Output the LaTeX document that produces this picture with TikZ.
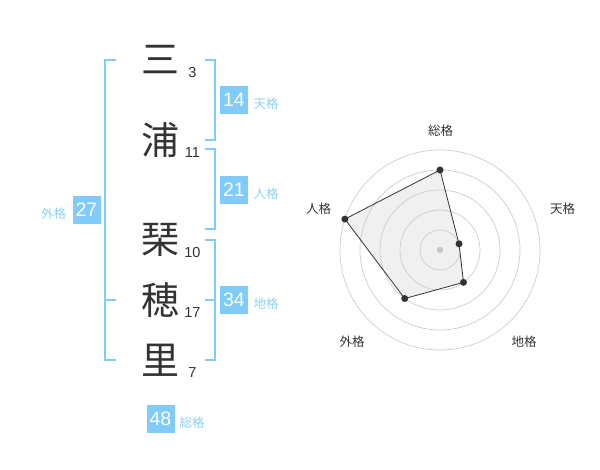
\documentclass[tikz,border=0pt]{standalone}
\usepackage{fontspec}
\setmainfont{Liberation Sans}
\newfontfamily\jpfont{Noto Sans CJK JP}
\usetikzlibrary{calc}
\definecolor{kakublue}{HTML}{80CBF7}
\definecolor{kakutext}{HTML}{8CD0F7}
\definecolor{inkgray}{HTML}{333333}

\begin{document}
\begin{tikzpicture}[x=1pt, y=-1pt,
		kanji/.style={font=\jpfont\fontsize{38}{38}\selectfont, text=inkgray, inner sep=0pt},
		strokes/.style={font=\fontsize{14.5}{14.5}\selectfont, text=inkgray, inner sep=0pt},
		kakubox/.style={fill=kakublue, text=white, font=\fontsize{19.5}{19.5}\selectfont, minimum size=28pt, inner sep=0pt},
		kakuname/.style={font=\jpfont\fontsize{12.5}{12.5}\selectfont, text=kakutext, inner sep=0pt},
		bracket/.style={draw=kakublue, line width=2pt},
		ring/.style={draw=black!20, line width=0.7pt},
		axisname/.style={font=\jpfont\fontsize{12.5}{12.5}\selectfont, text=inkgray, inner sep=0pt},
		score/.style={circle, fill=inkgray, minimum size=7pt, inner sep=0pt}
	]
		\useasboundingbox (0, 0) rectangle (600, 470);
		
		% name
		\node[kanji] (c1) at (160, 60) {三};
		\node[kanji] (c2) at (160, 140) {浦};
		\node[kanji] (c3) at (160, 240) {琹};
		\node[kanji] (c4) at (160, 300) {穂};
		\node[kanji] (c5) at (160, 360) {里};
		\node[strokes] (s1) at (192.5, 73) {3};
		\node[strokes] (s2) at (192.5, 153) {11};
		\node[strokes] (s3) at (192.5, 253) {10};
		\node[strokes] (s4) at (192.5, 313) {17};
		\node[strokes] (s5) at (192.5, 373) {7};
		
		% brackets
		\draw[bracket] (116, 60) -- (105, 60) -- (105, 360) -- (116, 360);
		\draw[bracket] (105, 300) -- (116, 300);
		\draw[bracket] (205, 60) -- (215, 60) -- (215, 140) -- (205, 140);
		\draw[bracket] (205, 149) -- (215, 149) -- (215, 229) -- (205, 229);
		\draw[bracket] (205, 240) -- (215, 240) -- (215, 360) -- (205, 360);
		\draw[bracket] (205, 300) -- (215, 300);
		
		% kaku boxes
		\node[kakubox] (ten) at (234, 100) {14};
		\node[kakuname] (tenname) at (266, 104) {天格};
		\node[kakubox] (jin) at (234, 190) {21};
		\node[kakuname] (jinname) at (266, 194) {人格};
		\node[kakubox] (chi) at (234, 300) {34};
		\node[kakuname] (chiname) at (266, 304) {地格};
		\node[kakubox] (gai) at (86.5, 210) {27};
		\node[kakuname] (gainame) at (53.5, 213.5) {外格};
		\node[kakubox] (sou) at (160.5, 419) {48};
		\node[kakuname] (souname) at (192, 423) {総格};
		
		% radar
		\coordinate (center) at (440, 250);
		\coordinate (psou) at ($(center)+(90:80pt)$);
		\coordinate (pten) at ($(center)+(18:20pt)$);
		\coordinate (pchi) at ($(center)+(-54:40pt)$);
		\coordinate (pgai) at ($(center)+(234:60pt)$);
		\coordinate (pjin) at ($(center)+(162:100pt)$);
		\fill[black!6] (psou) -- (pten) -- (pchi) -- (pgai) -- (pjin) -- cycle;
		\draw[ring] (center) circle[radius=20pt];
		\draw[ring] (center) circle[radius=40pt];
		\draw[ring] (center) circle[radius=60pt];
		\draw[ring] (center) circle[radius=80pt];
		\draw[ring] (center) circle[radius=100pt];
		\node[axisname] (asou) at (440.5, 130.5) {総格};
		\node[axisname] (aten) at (562.5, 209) {天格};
		\node[axisname] (achi) at (524, 341.5) {地格};
		\node[axisname] (agai) at (352, 341.5) {外格};
		\node[axisname] (ajin) at (318.5, 209) {人格};
		\draw[draw=inkgray, line width=0.8pt] (psou) -- (pten) -- (pchi) -- (pgai) -- (pjin) -- cycle;
		\fill[black!22] (center) circle[radius=3.3pt];
		\node[score] (dsou) at (psou) {};
		\node[score] (dten) at (pten) {};
		\node[score] (dchi) at (pchi) {};
		\node[score] (dgai) at (pgai) {};
		\node[score] (djin) at (pjin) {};
	\end{tikzpicture}
\end{document}
